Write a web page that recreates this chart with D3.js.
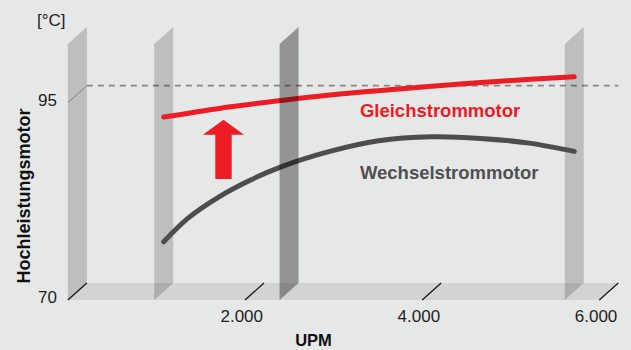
<!DOCTYPE html>
<html>
<head>
<meta charset="utf-8">
<script src="https://cdn.jsdelivr.net/npm/d3@7"></script>
<style>
  html, body { margin: 0; padding: 0; background: #e6e7e7; }
  svg { display: block; }
  text { font-family: "Liberation Sans", Arial, Helvetica, sans-serif; }
</style>
</head>
<body>
<svg id="chart" width="631" height="350"></svg>
<script>
// Speed axis (rpm) and its tick labels
const rpmTicks = [2000, 4000, 6000];
const rpmTickLabels = ["2.000", "4.000", "6.000"];
// Temperature axis (°C) and its tick labels
const tempTicks = [70, 95];
const tempTickLabels = ["70", "95"];
const referenceTemp = 95;

// Upright planes at fixed speeds
const lightWallRpm = [0, 975, 5610];
const darkWallRpm = [2390];

// Series: winding temperature over speed
const seriesNames = ["Gleichstrommotor", "Wechselstrommotor"];
const gleichRpm  = [975, 1600, 2300, 2850, 4000, 4770, 5610];
const gleichTemp = [92.1, 93.2, 94.2, 94.9, 96.0, 96.65, 97.2];
const wechselRpm  = [975, 1250, 1600, 1950, 2300, 2850, 3400, 4000, 4550, 5100, 5610];
const wechselTemp = [76.3, 79.3, 82.0, 84.1, 85.8, 87.75, 89.1, 89.6, 89.4, 88.8, 87.75];

// Improvement arrow (speed, from temp, to temp)
const arrowRpm = 1650;
const arrowTemp = [84.25, 91.75];

const svg = d3.select("#chart");
const W = 631, H = 350;

const x = d3.scaleLinear().domain([0, 6000]).range([67.85, 599.3]);
const y = d3.scaleLinear().domain([70, 95]).range([300, 102.7]);
const wallTop = 102.45;

// oblique depth offset of the back plane
const DX = 19, DY = -17;
const P = (rpm, t, d) => [x(rpm) + DX * d, y(t) + DY * d];

const RED = "#ed1c24";
const DARK = "#4d4d4f";

svg.append("rect").attr("width", W).attr("height", H).attr("fill", "#e6e7e7");

// floor plane
const floor = [P(0, 70, 0), P(6000, 70, 0), P(6000, 70, 1), P(0, 70, 1)];
svg.append("path")
  .attr("d", "M" + floor.join("L") + "Z")
  .attr("fill", "rgba(0,0,0,0.088)");

// plane at a constant speed spanning the full depth
const wallPath = rpm => {
  const pts = [P(rpm, 70, 0), P(rpm, wallTop, 0), P(rpm, wallTop, 1), P(rpm, 70, 1)];
  return "M" + pts.join("L") + "Z";
};

svg.append("g").selectAll("path")
  .data(lightWallRpm)
  .join("path")
  .attr("d", wallPath)
  .attr("fill", "rgba(0,0,0,0.178)");

// dashed reference line on the back plane
svg.append("line")
  .attr("x1", P(0, referenceTemp, 1)[0]).attr("y1", P(0, referenceTemp, 1)[1])
  .attr("x2", P(6000, referenceTemp, 1)[0]).attr("y2", P(6000, referenceTemp, 1)[1])
  .attr("stroke", "rgba(0,0,0,0.42)")
  .attr("stroke-width", 1.8)
  .attr("stroke-dasharray", "6,5");

// temperature ticks drawn as depth lines on the left wall
svg.append("g").selectAll("line")
  .data(tempTicks)
  .join("line")
  .attr("x1", d => P(0, d, 0)[0]).attr("y1", d => P(0, d, 0)[1])
  .attr("x2", d => P(0, d, 1)[0]).attr("y2", d => P(0, d, 1)[1])
  .attr("stroke", d => d === 70 ? "#111" : "#7d7d7d")
  .attr("stroke-width", d => d === 70 ? 1.2 : 1);

// series curves on the mid-depth plane
const line = d3.line()
  .x(d => P(d[0], d[1], 0.5)[0])
  .y(d => P(d[0], d[1], 0.5)[1])
  .curve(d3.curveCatmullRom.alpha(0.5));

const gleich = d3.zip(gleichRpm, gleichTemp);
const wechsel = d3.zip(wechselRpm, wechselTemp);

svg.append("path")
  .attr("d", line(wechsel))
  .attr("fill", "none")
  .attr("stroke", DARK)
  .attr("stroke-width", 5)
  .attr("stroke-linecap", "round");

svg.append("path")
  .attr("d", line(gleich))
  .attr("fill", "none")
  .attr("stroke", RED)
  .attr("stroke-width", 5)
  .attr("stroke-linecap", "round");

// upward arrow
{
  const cx = P(arrowRpm, arrowTemp[0], 0.5)[0];
  const yB = P(arrowRpm, arrowTemp[0], 0.5)[1];
  const yT = P(arrowRpm, arrowTemp[1], 0.5)[1];
  const headLen = 15, headHalf = 20.6, shaftHalf = 8.2;
  const pts = [
    [cx - shaftHalf, yB], [cx - shaftHalf, yT + headLen], [cx - headHalf, yT + headLen],
    [cx, yT], [cx + headHalf, yT + headLen], [cx + shaftHalf, yT + headLen], [cx + shaftHalf, yB]
  ];
  svg.append("path").attr("d", "M" + pts.join("L") + "Z").attr("fill", RED);
}

// dark plane in front of the curves
svg.append("g").selectAll("path")
  .data(darkWallRpm)
  .join("path")
  .attr("d", wallPath)
  .attr("fill", "rgba(0,0,0,0.357)");

// speed ticks on the floor
svg.append("g").selectAll("line")
  .data(rpmTicks)
  .join("line")
  .attr("x1", d => P(d, 70, 0)[0]).attr("y1", d => P(d, 70, 0)[1])
  .attr("x2", d => P(d, 70, 1)[0]).attr("y2", d => P(d, 70, 1)[1])
  .attr("stroke", "#111")
  .attr("stroke-width", 1.2);

// tick labels
svg.append("g").selectAll("text")
  .data(rpmTicks)
  .join("text")
  .attr("x", d => P(d, 70, 1)[0] - 1)
  .attr("y", 322)
  .attr("text-anchor", "end")
  .attr("font-size", 17)
  .attr("fill", "#231f20")
  .text((d, i) => rpmTickLabels[i]);

svg.append("g").selectAll("text")
  .data(tempTicks)
  .join("text")
  .attr("x", P(0, 70, 0)[0] - 11)
  .attr("y", d => y(d) + 3)
  .attr("text-anchor", "end")
  .attr("font-size", 17)
  .attr("fill", "#231f20")
  .text((d, i) => tempTickLabels[i]);

// unit and axis titles
svg.append("text")
  .attr("x", 37).attr("y", 25.5)
  .attr("font-size", 17)
  .attr("fill", "#231f20")
  .text("[°C]");

svg.append("text")
  .attr("transform", "translate(29.5,196) rotate(-90)")
  .attr("text-anchor", "middle")
  .attr("font-size", 18)
  .attr("font-weight", "bold")
  .attr("fill", "#111")
  .text("Hochleistungsmotor");

svg.append("text")
  .attr("x", 313.5).attr("y", 345.5)
  .attr("text-anchor", "middle")
  .attr("font-size", 16.5)
  .attr("font-weight", "bold")
  .attr("fill", "#111")
  .text("UPM");

// series labels
const labelRpm = 3190;
svg.append("text")
  .attr("x", P(labelRpm, 92.06, 0.5)[0]).attr("y", P(labelRpm, 92.06, 0.5)[1])
  .attr("font-size", 18.5)
  .attr("font-weight", "bold")
  .attr("fill", RED)
  .text(seriesNames[0]);

svg.append("text")
  .attr("x", P(labelRpm, 84.24, 0.5)[0]).attr("y", P(labelRpm, 84.24, 0.5)[1])
  .attr("font-size", 18.5)
  .attr("font-weight", "bold")
  .attr("fill", "#505052")
  .text(seriesNames[1]);
</script>
</body>
</html>
